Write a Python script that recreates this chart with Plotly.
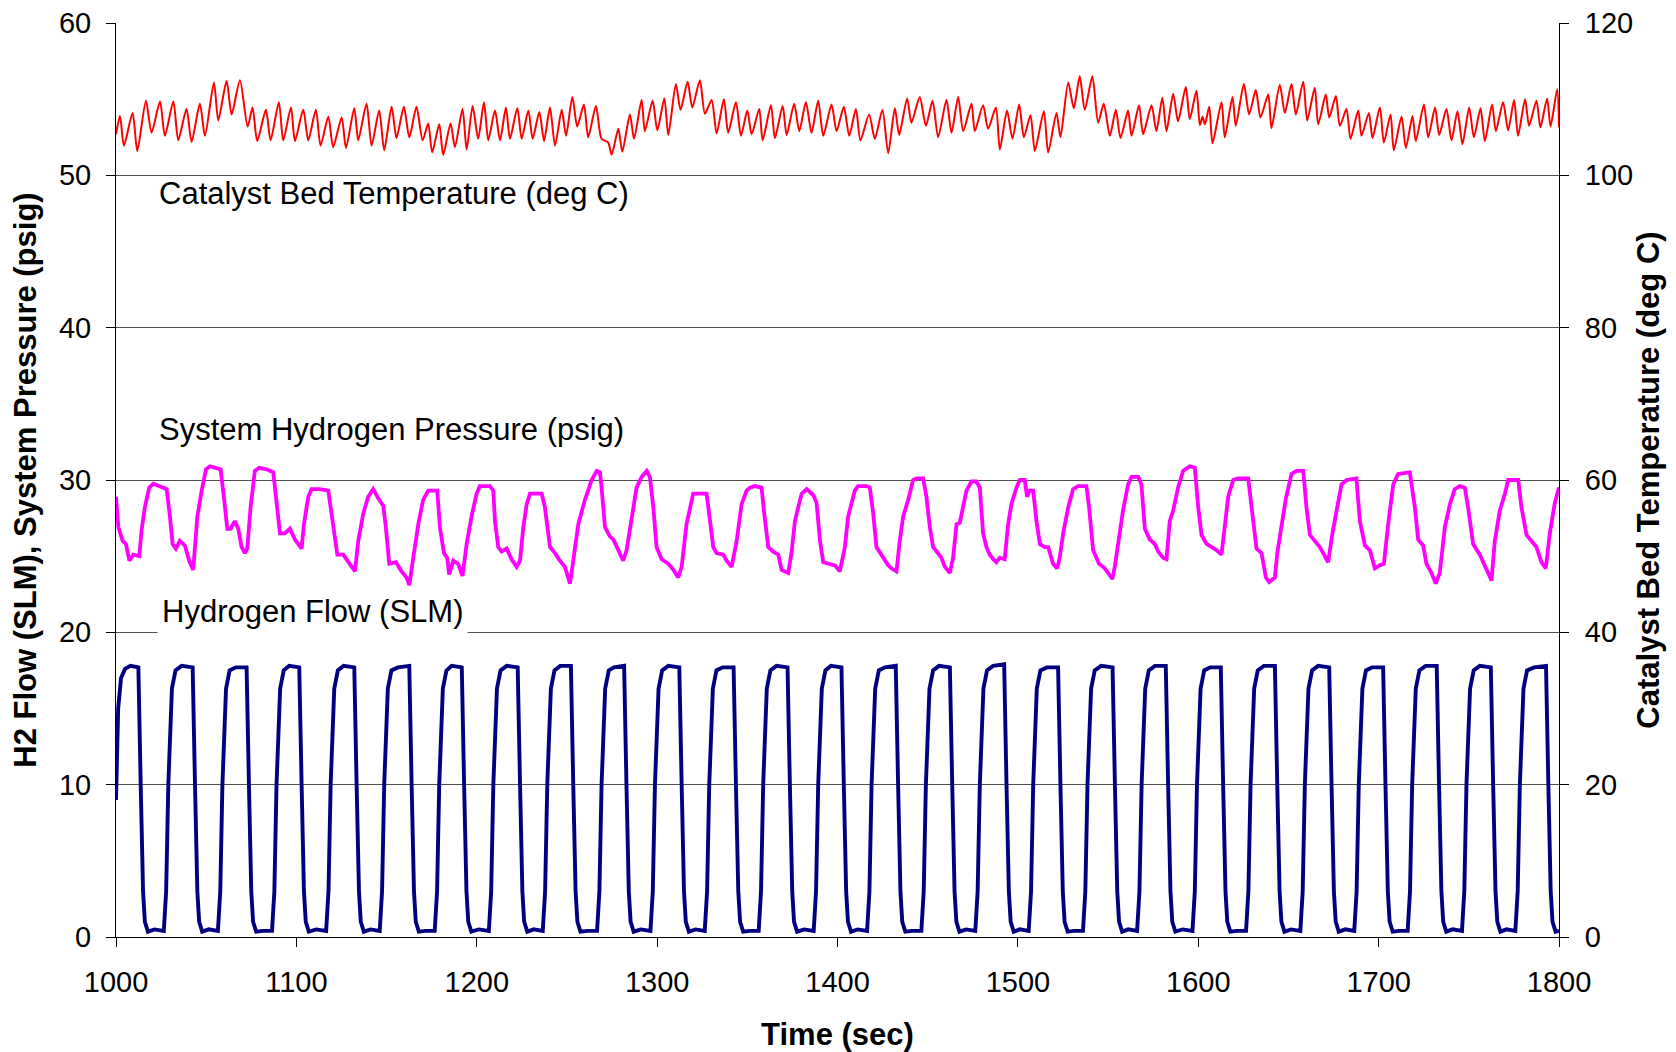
import plotly.graph_objects as go

# ---------------- Hydrogen flow (SLM) ----------------
flow_time = [
    1000.0, 1001.2, 1002.8, 1005.0, 1008.0, 1012.4, 1013.7, 1015.0, 1016.0, 1017.7, 1021.3,
    1026.5, 1027.8, 1029.0, 1031.0, 1033.0, 1036.4, 1042.5, 1043.8, 1045.1, 1046.1, 1047.8, 1051.4,
    1056.5, 1057.8, 1059.0, 1061.0, 1063.0, 1066.4, 1072.4, 1073.7, 1075.0, 1076.0, 1077.7, 1081.4,
    1086.5, 1087.8, 1089.0, 1091.0, 1093.0, 1096.0, 1101.6, 1102.9, 1104.2, 1105.2, 1106.9, 1111.0,
    1116.5, 1117.8, 1119.0, 1121.0, 1123.0, 1126.2, 1132.1, 1133.4, 1134.7, 1135.7, 1137.4, 1141.1,
    1146.2, 1147.5, 1148.7, 1150.7, 1152.7, 1156.3, 1162.6, 1163.9, 1165.2, 1166.2, 1167.9, 1171.6,
    1176.7, 1178.0, 1179.2, 1181.2, 1183.2, 1186.1, 1191.7, 1193.0, 1194.3, 1195.3, 1197.0, 1201.1,
    1206.7, 1208.0, 1209.2, 1211.2, 1213.2, 1216.6, 1222.7, 1224.0, 1225.3, 1226.3, 1228.0, 1231.6,
    1236.6, 1237.9, 1239.1, 1241.1, 1243.1, 1246.3, 1252.2, 1253.5, 1254.8, 1255.8, 1257.5, 1261.4,
    1266.7, 1268.0, 1269.2, 1271.2, 1273.2, 1276.1, 1281.7, 1283.0, 1284.3, 1285.3, 1287.0, 1290.9,
    1296.3, 1297.6, 1298.8, 1300.8, 1302.8, 1306.2, 1312.3, 1313.6, 1314.9, 1315.9, 1317.6, 1321.3,
    1326.4, 1327.7, 1328.9, 1330.9, 1332.9, 1336.3, 1342.4, 1343.7, 1345.0, 1346.0, 1347.7, 1351.3,
    1356.3, 1357.6, 1358.8, 1360.8, 1362.8, 1366.2, 1372.3, 1373.6, 1374.9, 1375.9, 1377.6, 1381.5,
    1386.8, 1388.1, 1389.3, 1391.3, 1393.3, 1396.4, 1402.2, 1403.5, 1404.8, 1405.8, 1407.5, 1411.2,
    1416.4, 1417.7, 1418.9, 1420.9, 1422.9, 1426.3, 1432.3, 1433.6, 1434.9, 1435.9, 1437.6, 1441.3,
    1446.5, 1447.8, 1449.0, 1451.0, 1453.0, 1456.3, 1462.3, 1463.6, 1464.9, 1465.9, 1467.6, 1471.3,
    1476.4, 1477.7, 1478.9, 1480.9, 1482.9, 1486.3, 1492.4, 1493.7, 1495.0, 1496.0, 1497.7, 1501.1,
    1506.0, 1507.3, 1508.5, 1510.5, 1512.5, 1516.1, 1522.3, 1523.6, 1524.9, 1525.9, 1527.6, 1531.1,
    1536.1, 1537.4, 1538.6, 1540.6, 1542.6, 1546.2, 1552.5, 1553.8, 1555.1, 1556.1, 1557.8, 1561.2,
    1566.1, 1567.4, 1568.6, 1570.6, 1572.6, 1576.0, 1582.0, 1583.3, 1584.6, 1585.6, 1587.3, 1591.3,
    1596.8, 1598.1, 1599.3, 1601.3, 1603.3, 1606.6, 1612.5, 1613.8, 1615.1, 1616.1, 1617.8, 1621.4,
    1626.5, 1627.8, 1629.0, 1631.0, 1633.0, 1636.4, 1642.5, 1643.8, 1645.1, 1646.1, 1647.8, 1651.5,
    1656.6, 1657.9, 1659.1, 1661.1, 1663.1, 1666.5, 1672.6, 1673.9, 1675.2, 1676.2, 1677.9, 1681.5,
    1686.5, 1687.8, 1689.0, 1691.0, 1693.0, 1696.4, 1702.5, 1703.8, 1705.1, 1706.1, 1707.8, 1711.2,
    1716.1, 1717.4, 1718.6, 1720.6, 1722.6, 1726.1, 1732.2, 1733.5, 1734.8, 1735.8, 1737.5, 1741.1,
    1746.2, 1747.5, 1748.7, 1750.7, 1752.7, 1756.1, 1762.2, 1763.5, 1764.8, 1765.8, 1767.5, 1770.9,
    1775.8, 1777.1, 1778.3, 1780.3, 1782.3, 1786.2, 1792.8, 1794.1, 1795.4, 1796.4, 1798.1, 1800.0,
]
flow_value = [
    9.0, 15.0, 17.0, 17.6, 17.8, 17.7, 10.0, 3.0, 1.0, 0.35, 0.5,
] + [
    0.4, 3.0, 10.0, 16.3, 17.5, 17.8, 17.7, 10.0, 3.0, 1.0, 0.35, 0.5,
    0.4, 3.0, 10.0, 16.3, 17.5, 17.7, 17.7, 10.0, 3.0, 1.0, 0.35, 0.4,
    0.4, 3.0, 10.0, 16.3, 17.5, 17.8, 17.7, 10.0, 3.0, 1.0, 0.35, 0.5,
    0.4, 3.0, 10.0, 16.3, 17.5, 17.8, 17.7, 10.0, 3.0, 1.0, 0.35, 0.5,
    0.4, 3.0, 10.0, 16.3, 17.5, 17.7, 17.8, 10.0, 3.0, 1.0, 0.35, 0.4,
    0.4, 3.0, 10.0, 16.3, 17.5, 17.8, 17.7, 10.0, 3.0, 1.0, 0.35, 0.5,
    0.4, 3.0, 10.0, 16.3, 17.5, 17.8, 17.7, 10.0, 3.0, 1.0, 0.35, 0.5,
    0.4, 3.0, 10.0, 16.3, 17.5, 17.8, 17.8, 10.0, 3.0, 1.0, 0.35, 0.4,
    0.4, 3.0, 10.0, 16.3, 17.5, 17.7, 17.8, 10.0, 3.0, 1.0, 0.35, 0.5,
    0.4, 3.0, 10.0, 16.3, 17.5, 17.8, 17.7, 10.0, 3.0, 1.0, 0.35, 0.5,
    0.4, 3.0, 10.0, 16.3, 17.5, 17.7, 17.7, 10.0, 3.0, 1.0, 0.35, 0.4,
    0.4, 3.0, 10.0, 16.3, 17.5, 17.8, 17.7, 10.0, 3.0, 1.0, 0.35, 0.5,
    0.4, 3.0, 10.0, 16.3, 17.5, 17.8, 17.7, 10.0, 3.0, 1.0, 0.35, 0.5,
    0.4, 3.0, 10.0, 16.3, 17.5, 17.7, 17.8, 10.0, 3.0, 1.0, 0.35, 0.4,
    0.4, 3.0, 10.0, 16.3, 17.5, 17.8, 17.7, 10.0, 3.0, 1.0, 0.35, 0.5,
    0.4, 3.0, 10.0, 16.3, 17.5, 17.8, 17.9, 10.0, 3.0, 1.0, 0.35, 0.5,
    0.4, 3.0, 10.0, 16.3, 17.5, 17.7, 17.7, 10.0, 3.0, 1.0, 0.35, 0.4,
    0.4, 3.0, 10.0, 16.3, 17.5, 17.8, 17.7, 10.0, 3.0, 1.0, 0.35, 0.5,
    0.4, 3.0, 10.0, 16.3, 17.5, 17.8, 17.8, 10.0, 3.0, 1.0, 0.35, 0.5,
    0.4, 3.0, 10.0, 16.3, 17.5, 17.7, 17.7, 10.0, 3.0, 1.0, 0.35, 0.4,
    0.4, 3.0, 10.0, 16.3, 17.5, 17.8, 17.8, 10.0, 3.0, 1.0, 0.35, 0.5,
    0.4, 3.0, 10.0, 16.3, 17.5, 17.8, 17.7, 10.0, 3.0, 1.0, 0.35, 0.5,
    0.4, 3.0, 10.0, 16.3, 17.5, 17.7, 17.7, 10.0, 3.0, 1.0, 0.35, 0.4,
    0.4, 3.0, 10.0, 16.3, 17.5, 17.8, 17.8, 10.0, 3.0, 1.0, 0.35, 0.5,
    0.4, 3.0, 10.0, 16.3, 17.5, 17.8, 17.7, 10.0, 3.0, 1.0, 0.35, 0.5,
    0.4, 3.0, 10.0, 16.3, 17.5, 17.7, 17.8, 10.0, 3.0, 1.0, 0.35, 0.4,
]

# ---------------- System hydrogen pressure (psig) ----------------
pressure_time = [
    1000.0, 1001.3, 1003.7, 1005.5, 1007.4, 1009.6, 1012.9, 1014.2, 1016.0, 1018.4, 1020.7, 1024.4,
    1028.1, 1029.9, 1031.4, 1033.2, 1035.4, 1038.2, 1040.6, 1042.8, 1045.1, 1047.5, 1049.9, 1052.1,
    1055.8, 1058.0, 1059.8, 1061.7, 1063.5, 1065.9, 1067.8, 1069.6, 1071.5, 1072.8, 1074.6, 1077.0,
    1079.4, 1083.5, 1087.2, 1088.7, 1090.9, 1093.6, 1096.4, 1099.2, 1102.9, 1104.2, 1106.6, 1108.4,
    1113.0, 1117.7, 1120.4, 1122.7, 1126.0, 1128.8, 1132.5, 1134.3, 1137.1, 1139.8, 1142.6, 1145.4,
    1148.2, 1149.6, 1151.5, 1155.2, 1158.3, 1161.1, 1162.6, 1164.8, 1167.6, 1170.3, 1173.1, 1178.1,
    1179.6, 1181.8, 1183.6, 1184.7, 1187.0, 1189.7, 1192.1, 1194.4, 1197.1, 1199.9, 1201.7, 1207.3,
    1209.2, 1210.1, 1211.9, 1213.8, 1216.6, 1219.3, 1222.1, 1224.0, 1225.8, 1227.7, 1229.5, 1232.3,
    1236.0, 1237.8, 1240.6, 1243.4, 1246.1, 1248.9, 1251.7, 1253.5, 1256.3, 1260.0, 1263.7, 1266.5,
    1268.3, 1269.2, 1271.1, 1273.8, 1275.7, 1278.5, 1281.2, 1283.1, 1285.9, 1288.6, 1291.4, 1294.2,
    1296.0, 1297.9, 1299.7, 1302.5, 1306.2, 1309.0, 1311.7, 1313.6, 1316.3, 1318.2, 1320.0, 1323.7,
    1327.4, 1328.4, 1331.1, 1333.0, 1336.7, 1338.5, 1341.3, 1344.1, 1346.8, 1349.6, 1351.5, 1354.2,
    1357.9, 1359.2, 1361.6, 1364.4, 1367.2, 1369.0, 1372.7, 1374.5, 1376.4, 1378.2, 1380.1, 1382.9,
    1386.6, 1388.4, 1390.3, 1392.1, 1395.8, 1398.6, 1401.3, 1404.1, 1405.9, 1407.8, 1409.6, 1411.4,
    1416.1, 1417.9, 1419.8, 1421.6, 1424.4, 1426.2, 1428.1, 1429.9, 1432.7, 1434.5, 1436.4, 1439.2,
    1441.9, 1443.8, 1447.5, 1449.3, 1451.2, 1453.0, 1455.8, 1457.6, 1459.5, 1462.3, 1464.1, 1466.0,
    1467.8, 1469.7, 1471.5, 1474.3, 1477.0, 1478.9, 1480.7, 1482.6, 1484.4, 1486.3, 1488.1, 1490.0,
    1492.7, 1494.6, 1496.4, 1499.2, 1501.1, 1503.8, 1505.1, 1506.6, 1508.5, 1510.3, 1512.2, 1514.9,
    1516.8, 1519.5, 1521.8, 1523.2, 1525.1, 1527.9, 1530.6, 1533.4, 1538.0, 1539.5, 1541.7, 1545.0,
    1548.2, 1550.0, 1552.4, 1553.7, 1555.6, 1558.3, 1561.1, 1563.0, 1566.7, 1568.5, 1570.4, 1573.1,
    1575.9, 1577.8, 1580.5, 1582.4, 1584.2, 1586.1, 1588.8, 1591.6, 1595.3, 1598.1, 1600.0, 1601.8,
    1604.6, 1607.4, 1610.1, 1612.9, 1614.7, 1616.6, 1619.4, 1622.1, 1627.7, 1629.5, 1632.3, 1635.1,
    1637.5, 1639.3, 1642.5, 1643.8, 1646.2, 1648.6, 1651.7, 1654.5, 1658.2, 1660.0, 1661.9, 1664.6,
    1667.4, 1669.3, 1672.0, 1674.4, 1676.6, 1679.4, 1682.2, 1687.7, 1689.6, 1692.4, 1695.1, 1697.9,
    1700.7, 1702.9, 1705.3, 1708.1, 1710.8, 1717.3, 1720.1, 1721.9, 1724.7, 1726.5, 1729.3, 1731.7,
    1733.9, 1736.7, 1739.5, 1742.2, 1745.0, 1747.8, 1749.6, 1752.4, 1756.1, 1758.9, 1762.6, 1764.4,
    1767.2, 1770.0, 1771.8, 1777.4, 1779.2, 1782.0, 1784.7, 1787.5, 1790.3, 1792.7, 1794.9, 1797.7,
    1800.0,
]
pressure_value = [
    28.9, 26.9, 26.0, 25.8, 24.7, 25.1, 25.0, 26.7, 28.2, 29.5, 29.75, 29.6,
    29.4, 27.6, 25.8, 25.5, 26.0, 25.7, 24.7, 24.1, 27.6, 29.3, 30.7, 30.9,
    30.8, 30.7, 28.9, 26.8, 26.8, 27.3, 26.8, 25.6, 25.2, 25.5, 28.2, 30.6,
    30.8, 30.7, 30.5, 28.9, 26.5, 26.5, 26.8, 26.1, 25.5, 27.1, 28.9, 29.4,
    29.4, 29.3, 27.1, 25.1, 25.1, 24.6, 24.0, 26.0, 27.8, 28.9, 29.4, 28.8,
    28.3, 26.9, 24.5, 24.6, 24.0, 23.6, 23.1, 24.9, 27.1, 28.7, 29.3, 29.3,
    26.9, 25.2, 24.9, 23.8, 24.7, 24.5, 23.7, 25.8, 27.6, 29.1, 29.6, 29.6,
    29.3, 27.3, 25.6, 25.3, 25.5, 24.8, 24.3, 24.7, 26.9, 28.4, 29.1, 29.1,
    29.1, 28.2, 25.6, 25.2, 24.7, 24.3, 23.2, 24.7, 27.1, 28.7, 30.0, 30.6,
    30.5, 29.5, 26.9, 26.3, 26.1, 25.4, 24.7, 25.4, 27.6, 29.5, 30.2, 30.6,
    30.2, 28.2, 25.6, 24.8, 24.5, 24.1, 23.6, 24.3, 27.1, 28.2, 29.1, 29.1,
    29.1, 28.2, 25.6, 25.2, 25.1, 24.7, 24.3, 26.0, 28.4, 29.3, 29.5, 29.6,
    29.5, 28.0, 25.6, 25.3, 25.1, 24.1, 23.9, 25.2, 27.3, 28.2, 29.1, 29.4,
    29.0, 28.5, 26.0, 24.6, 24.5, 24.4, 24.0, 25.6, 27.6, 28.4, 29.3, 29.6,
    29.6, 29.5, 27.8, 25.6, 25.1, 24.8, 24.4, 24.2, 24.0, 26.0, 27.6, 28.7,
    30.0, 30.1, 30.1, 28.9, 26.9, 25.6, 25.2, 24.9, 24.3, 23.9, 24.9, 27.1,
    27.2, 28.2, 29.3, 29.9, 29.9, 29.5, 26.5, 25.6, 25.1, 24.8, 24.6, 24.9,
    24.8, 27.1, 28.4, 29.5, 30.0, 30.0, 28.9, 29.3, 29.3, 27.3, 25.8, 25.6,
    25.6, 24.5, 24.2, 24.9, 26.5, 28.2, 29.4, 29.6, 29.6, 28.2, 25.4, 24.5,
    24.2, 23.9, 23.5, 24.3, 26.0, 28.0, 29.7, 30.2, 30.2, 29.7, 26.8, 26.1,
    25.8, 25.3, 24.9, 24.8, 27.3, 28.0, 29.5, 30.6, 30.9, 30.8, 28.2, 26.4,
    25.8, 25.6, 25.4, 25.1, 27.1, 28.9, 30.0, 30.1, 30.1, 28.2, 25.5, 25.2,
    23.6, 23.3, 23.6, 25.2, 26.9, 28.8, 30.4, 30.6, 30.6, 28.2, 26.4, 26.0,
    25.6, 25.2, 24.6, 26.5, 28.0, 29.7, 30.0, 30.1, 27.3, 25.7, 25.4, 24.2,
    24.4, 24.5, 27.1, 29.7, 30.4, 30.5, 28.2, 26.1, 25.7, 24.5, 23.9, 23.2,
    23.9, 26.9, 28.4, 29.4, 29.6, 29.5, 28.2, 25.8, 25.1, 24.3, 23.4, 26.0,
    28.0, 29.1, 30.0, 30.0, 28.2, 26.4, 26.0, 25.6, 24.6, 24.2, 26.5, 28.5,
    29.5,
]

# ---------------- Catalyst bed temperature (deg C) ----------------
temp_time = [
    1000.0, 1002.2, 1004.4, 1009.2, 1011.8, 1016.6, 1019.7, 1024.4, 1027.1, 1031.8, 1034.5, 1039.1,
    1041.9, 1046.5, 1049.3, 1054.3, 1056.7, 1061.3, 1064.1, 1068.7, 1073.0, 1075.7, 1078.3, 1083.1,
    1085.7, 1090.3, 1092.7, 1097.0, 1099.2, 1103.8, 1106.6, 1110.8, 1113.4, 1117.7, 1120.4, 1125.1,
    1127.5, 1132.1, 1134.3, 1138.9, 1141.7, 1145.9, 1148.7, 1152.8, 1155.5, 1159.6, 1162.6, 1166.6,
    1170.0, 1173.1, 1175.3, 1179.2, 1181.4, 1185.5, 1187.9, 1192.1, 1194.4, 1197.7, 1200.8,
    1204.0, 1206.4, 1210.1, 1212.9, 1216.2, 1218.4, 1222.5, 1224.9, 1228.6, 1231.0, 1234.7, 1237.3,
    1240.6, 1243.4, 1247.1, 1249.5, 1253.0, 1255.7, 1259.4, 1261.8, 1266.1, 1269.2, 1272.9, 1274.8,
    1278.5, 1280.7, 1284.9, 1287.2, 1291.4, 1293.2, 1297.5, 1300.1, 1304.0, 1306.2, 1310.4, 1313.0,
    1316.9, 1319.5, 1323.7, 1326.5, 1330.2, 1333.0, 1337.0, 1339.4, 1343.7, 1346.5, 1350.0, 1352.4,
    1356.6, 1358.5, 1363.1, 1365.3, 1369.6, 1371.8, 1376.0, 1378.8, 1382.5, 1385.6, 1389.3, 1392.1,
    1396.7, 1399.5,
    1403.5, 1406.5, 1410.2, 1412.7, 1417.5, 1420.7, 1424.9, 1428.1, 1431.8, 1434.2, 1438.6, 1441.0,
    1445.6, 1449.0, 1452.7, 1455.8, 1460.4, 1463.2, 1466.9, 1469.7, 1474.3, 1476.1, 1480.7, 1483.5,
    1487.8, 1490.0, 1494.0, 1497.0, 1500.7, 1503.3, 1507.0, 1509.4, 1514.4, 1516.8, 1521.4, 1523.6,
    1527.9, 1531.0, 1534.3, 1537.1, 1541.3, 1544.5, 1547.6, 1551.0, 1554.3, 1556.9, 1561.1, 1563.0,
    1567.2, 1569.4, 1574.1, 1576.8, 1580.1, 1582.4, 1586.1, 1588.8, 1593.1, 1595.3, 1599.0,
    1600.9, 1602.4, 1603.7, 1606.1, 1607.9, 1612.9, 1614.7, 1619.0, 1620.8, 1625.3, 1628.2, 1631.9,
    1634.5, 1638.8, 1640.6, 1645.2, 1648.0, 1651.7, 1654.1, 1658.2, 1660.4, 1664.6, 1666.5, 1670.7,
    1672.6, 1676.3, 1678.5, 1682.2, 1684.4, 1688.7, 1690.5, 1694.6, 1696.6, 1700.7, 1702.9, 1706.6,
    1708.4, 1712.7, 1715.1, 1718.8, 1720.6, 1725.1, 1727.5, 1731.3, 1733.6, 1737.6, 1740.4, 1743.7,
    1746.5, 1750.2, 1752.8, 1756.5, 1758.9, 1762.9, 1765.0, 1769.0, 1771.8, 1775.1, 1777.3, 1781.2,
    1783.4, 1787.5, 1789.7, 1793.4, 1795.3, 1799.0, 1800.0,
]
temp_value = [
    105.4, 107.8, 103.9, 108.2, 103.2, 109.8, 105.6, 109.7, 105.2, 109.7, 104.6, 108.7,
    104.4, 109.4, 105.2, 112.2, 107.2, 112.4, 108.0, 112.5, 106.4, 108.9, 104.5, 108.6,
    104.6, 109.6, 104.6, 108.9, 104.5, 108.6, 104.6, 108.6, 103.9, 107.7, 103.7, 107.6,
    103.6, 108.8, 104.6, 109.4, 103.9, 108.5, 103.3, 109.0, 104.9, 109.0, 105.0, 109.0,
    104.6, 106.8, 103.0, 106.7, 102.7, 106.8, 103.7, 108.7, 103.4, 109.1, 104.8,
    109.6, 104.6, 108.5, 104.6, 108.9, 104.8, 108.8, 104.8, 108.5, 104.8, 108.3, 104.5,
    108.9, 103.9, 108.6, 105.2, 110.3, 106.4, 109.3, 105.0, 109.1, 104.8, 104.3, 102.7,
    106.1, 103.1, 108.0, 104.8, 109.9, 105.8, 109.8, 105.9, 110.1, 105.3, 112.0, 108.6,
    112.3, 108.9, 112.5, 108.1, 109.9, 105.5, 110.0, 105.6, 109.6, 105.2, 108.5, 105.4,
    108.7, 104.6, 109.2, 104.9, 109.1, 105.3, 109.4, 105.8, 109.6, 105.6, 109.8, 105.2,
    109.3, 105.8,
    109.0, 105.2, 108.7, 104.6, 108.0, 104.8, 108.6, 102.9, 108.8, 105.3, 110.1, 106.9,
    110.3, 106.5, 109.8, 105.0, 109.9, 105.6, 110.3, 105.8, 109.4, 105.8, 109.2, 106.1,
    108.9, 103.4, 108.5, 104.8, 109.3, 105.0, 107.9, 103.2, 108.4, 103.0, 108.2, 105.0,
    112.2, 108.8, 113.0, 108.6, 113.0, 106.9, 109.4, 105.2, 108.6, 104.9, 108.5, 105.2,
    109.2, 105.4, 109.2, 105.8, 110.2, 105.8, 110.7, 107.1, 111.6, 107.4, 111.1,
    106.6, 107.7, 106.7, 109.0, 104.2, 109.6, 105.0, 110.3, 106.5, 112.0, 108.0, 111.2,
    107.6, 110.6, 106.2, 111.9, 108.2, 112.0, 108.0, 112.3, 107.2, 111.5, 106.7, 110.6,
    107.6, 110.4, 106.5, 108.7, 104.8, 108.5, 105.2, 108.2, 104.9, 108.9, 104.3, 108.0,
    103.3, 107.7, 103.6, 107.8, 104.5, 109.3, 105.0, 108.9, 105.3, 108.7, 104.6, 108.4,
    104.1, 108.9, 105.0, 108.8, 104.5, 109.3, 105.8, 109.6, 105.9, 109.9, 105.2, 110.0,
    106.5, 109.8, 106.3, 110.1, 106.4, 111.3, 106.3,
]

x_ticks = [1000, 1100, 1200, 1300, 1400, 1500, 1600, 1700, 1800]
left_ticks = [0, 10, 20, 30, 40, 50, 60]
right_ticks = [0, 20, 40, 60, 80, 100, 120]

FONT = "Liberation Sans, Arial, Helvetica, sans-serif"

fig = go.Figure()
fig.add_trace(go.Scatter(x=temp_time, y=temp_value, mode="lines", yaxis="y2",
                         name="Catalyst Bed Temperature (deg C)",
                         line=dict(color="#FF0000", width=2.0, shape="spline", smoothing=0.7)))
fig.add_trace(go.Scatter(x=pressure_time, y=pressure_value, mode="lines",
                         name="System Hydrogen Pressure (psig)",
                         line=dict(color="#FF00FF", width=3.8)))
fig.add_trace(go.Scatter(x=flow_time, y=flow_value, mode="lines",
                         name="Hydrogen Flow (SLM)",
                         line=dict(color="#000080", width=3.9)))

annotations = [
    dict(text="Catalyst Bed Temperature (deg C)", x=1022.5, y=48.8),
    dict(text="System Hydrogen Pressure (psig)", x=1022.5, y=33.3),
    dict(text="Hydrogen Flow (SLM)", x=1022.5, y=21.4, bgcolor="white", borderpad=4),
]
for a in annotations:
    fig.add_annotation(xref="x", yref="y", xanchor="left", yanchor="middle", showarrow=False,
                       font=dict(family=FONT, size=31, color="black"), **a)

# the page body adds an 8px offset; figure size/margins compensate for it
fig.update_layout(
    width=1668, height=1044,
    margin=dict(l=108, r=117, t=15, b=115, autoexpand=False),
    paper_bgcolor="white", plot_bgcolor="white",
    showlegend=False,
    font=dict(family=FONT, color="black"),
    xaxis=dict(range=[1000, 1800], tickvals=x_ticks, ticktext=[str(v) for v in x_ticks],
               showgrid=False, zeroline=False, showline=True, linecolor="black", linewidth=1,
               ticks="outside", ticklen=9, tickcolor="black", tickfont=dict(size=29),
               ticklabelstandoff=10, ticklabeloverflow="allow", automargin=False,
               title=dict(text="<b>Time (sec)</b>", font=dict(size=31), standoff=33)),
    yaxis=dict(range=[0, 60], tickvals=left_ticks, showgrid=True, gridcolor="#505050", gridwidth=1,
               zeroline=False, showline=True, linecolor="black", linewidth=1,
               ticks="outside", ticklen=9, tickcolor="black", tickfont=dict(size=29),
               ticklabelstandoff=9, ticklabeloverflow="allow", automargin=False,
               title=dict(text="<b>H2 Flow (SLM), System Pressure (psig)</b>", font=dict(size=31), standoff=13)),
    yaxis2=dict(range=[0, 120], tickvals=right_ticks, overlaying="y", side="right", showgrid=False,
                zeroline=False, showline=True, linecolor="black", linewidth=1,
                ticks="outside", ticklen=9, tickcolor="black", tickfont=dict(size=29),
                ticklabelstandoff=10, ticklabeloverflow="allow", automargin=False,
                title=dict(text="<b>Catalyst Bed Temperature (deg C)</b>", font=dict(size=31), standoff=5)),
)

fig.write_html("out.html")
